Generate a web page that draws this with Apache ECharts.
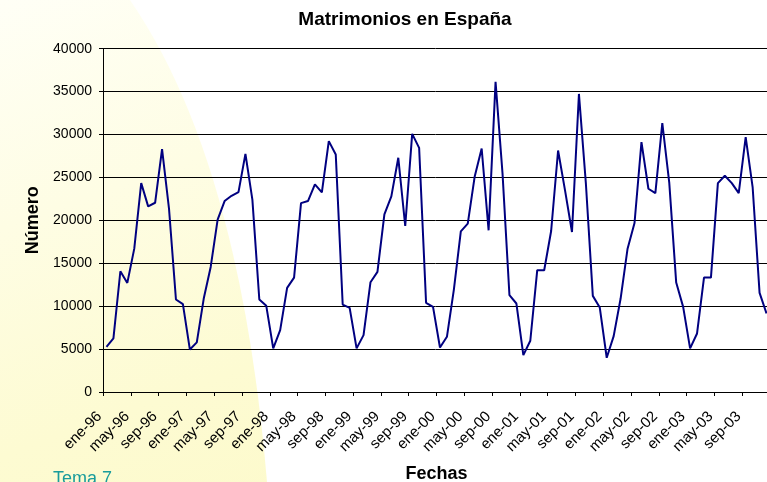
<!DOCTYPE html>
<html>
<head>
<meta charset="utf-8">
<style>
  html, body { margin: 0; padding: 0; background: #fff; }
  #wrap { position: relative; width: 767px; height: 482px; }
  #fondo {
    position: absolute; left: 0; top: 0; width: 767px; height: 482px;
    background: linear-gradient(160deg, #fffff6 0%, #fdfbd2 60%, #fcf9c6 100%);
    clip-path: path('M0,0 L130,0 Q240,160 267,482 L0,482 Z');
  }
  #chart { position: absolute; left: 0; top: 0; width: 767px; height: 482px; }
</style>
<script src="https://cdn.jsdelivr.net/npm/echarts@6/dist/echarts.min.js"></script>
</head>
<body>
<div id="wrap">
  <div id="fondo"></div>
  <div id="chart"></div>
</div>
<script>
// meses y años del eje x
var meses = ['ene', 'feb', 'mar', 'abr', 'may', 'jun', 'jul', 'ago', 'sep', 'oct', 'nov', 'dic'];
var anios = ['96', '97', '98', '99', '00', '01', '02', '03'];

// matrimonios mensuales, un array por año
var m1996 = [5270, 6240, 14070, 12710, 16700, 24340, 21630, 22050, 28300, 21360, 10780, 10230];
var m1997 = [4960, 5780, 10890, 14570, 20080, 22250, 22860, 23290, 27750, 22410, 10780, 10040];
var m1998 = [5080, 7210, 12130, 13330, 22010, 22250, 24190, 23260, 29230, 27670, 10190, 9810];
var m1999 = [5080, 6630, 12790, 13990, 20700, 22790, 27290, 19340, 30080, 28450, 10390, 9920];
var m2000 = [5190, 6430, 11940, 18720, 19610, 25120, 28370, 18840, 36130, 25500, 11280, 10310];
var m2001 = [4300, 5970, 14190, 14190, 18760, 28140, 23490, 18640, 34730, 24300, 11200, 9840];
var m2002 = [3990, 6510, 10890, 16700, 19690, 29110, 23680, 23180, 31320, 24400, 12750, 9920];
var m2003 = [5080, 6820, 13330, 13330, 24340, 25190, 24340, 23180, 29690, 23880, 11550, 9150];

var yTicks = [0, 5000, 10000, 15000, 20000, 25000, 30000, 35000, 40000];

var fechas = [];
anios.forEach(function (a) {
  meses.forEach(function (m) { fechas.push(m + '-' + a); });
});
var valores = [].concat(m1996, m1997, m1998, m1999, m2000, m2001, m2002, m2003);

var fuente = '"Liberation Sans", Arial, sans-serif';

var chart = echarts.init(document.getElementById('chart'));
chart.setOption({
  animation: false,
  backgroundColor: 'transparent',
  graphic: [
    {
      type: 'text',
      left: 53,
      top: 470,
      style: {
        text: 'Tema 7',
        fill: '#1a9c9c',
        font: '18px ' + fuente
      }
    }
  ],
  title: {
    text: 'Matrimonios en España',
    left: 400,
    top: 5,
    textAlign: 'center',
    textStyle: {
      fontFamily: fuente,
      fontWeight: 'bold',
      fontSize: 19,
      color: '#000'
    }
  },
  grid: {
    left: 103,
    top: 48.7,
    width: 667,
    bottom: 90,
    outerBoundsMode: 'none',
    containLabel: false
  },
  xAxis: {
    type: 'category',
    data: fechas,
    boundaryGap: true,
    name: 'Fechas',
    nameLocation: 'middle',
    nameGap: 73,
    nameTextStyle: {
      fontFamily: fuente,
      fontWeight: 'bold',
      fontSize: 18,
      color: '#000'
    },
    axisLine: { lineStyle: { color: '#000', width: 1 } },
    axisTick: { show: true, interval: 3, length: 4, lineStyle: { color: '#000' } },
    axisLabel: {
      interval: 3,
      rotate: 45,
      margin: 15,
      padding: [0, 10, 0, 0],
      fontFamily: fuente,
      fontSize: 15,
      color: '#000'
    },
    splitLine: { show: false }
  },
  yAxis: {
    type: 'value',
    min: yTicks[0],
    max: yTicks[yTicks.length - 1],
    interval: 5000,
    name: 'Número',
    nameLocation: 'middle',
    nameGap: 61,
    nameTextStyle: {
      fontFamily: fuente,
      fontWeight: 'bold',
      fontSize: 18,
      color: '#000'
    },
    axisLine: { show: true, lineStyle: { color: '#000', width: 1 } },
    axisTick: { show: true, length: 4, lineStyle: { color: '#000' } },
    axisLabel: {
      margin: 11,
      fontFamily: fuente,
      fontSize: 14,
      color: '#000',
      formatter: function (v) { return String(v); }
    },
    splitLine: { show: true, lineStyle: { color: '#000', width: 1 } }
  },
  series: [
    {
      name: 'Matrimonios',
      type: 'line',
      data: valores,
      showSymbol: false,
      symbol: 'none',
      lineStyle: { color: '#000080', width: 2 },
      itemStyle: { color: '#000080' }
    }
  ]
});
</script>
</body>
</html>
